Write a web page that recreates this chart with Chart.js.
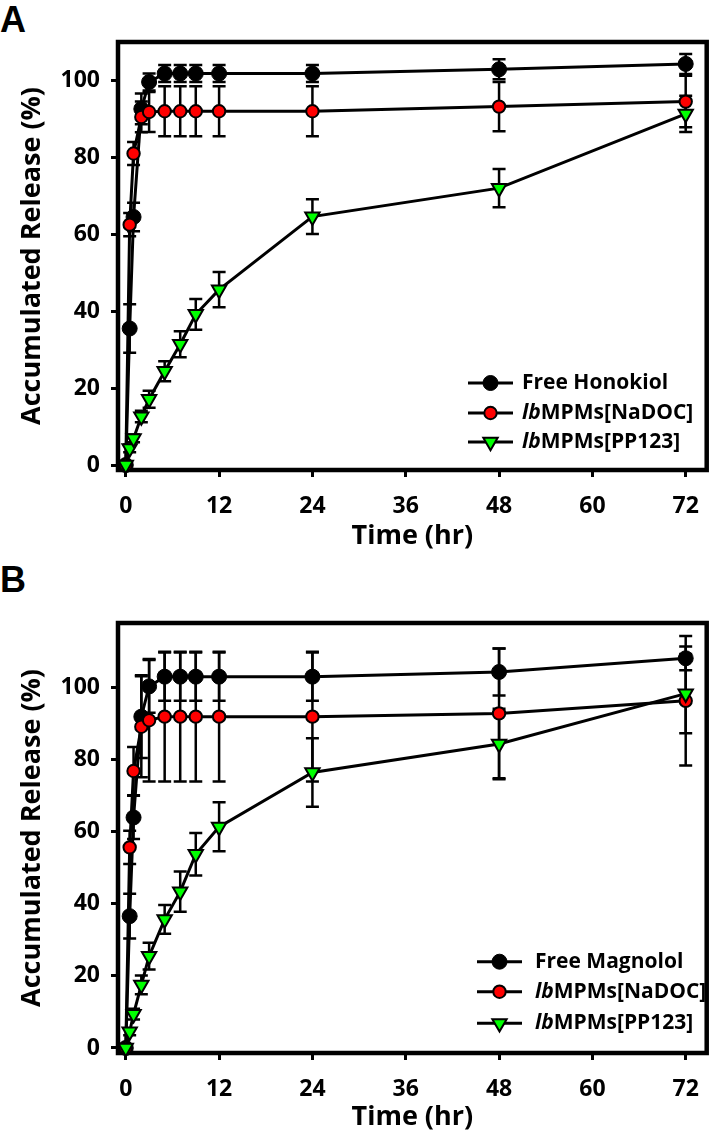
<!DOCTYPE html>
<html><head><meta charset="utf-8">
<script src="https://cdn.jsdelivr.net/npm/chart.js@4.4.0/dist/chart.umd.min.js"></script>
<style>
html,body{margin:0;padding:0;background:#fff;}
body{width:717px;height:1134px;position:relative;overflow:hidden;}
canvas{position:absolute;left:0;}
.lbl{position:absolute;font-family:"Liberation Sans",Arial,sans-serif;font-weight:bold;font-size:36px;line-height:1;color:#000;}
</style></head><body>
<div class="lbl" style="left:0px;top:2px">A</div>
<div class="lbl" style="left:0px;top:562px">B</div>
<canvas id="cA" width="717" height="560" style="top:0"></canvas>
<canvas id="cB" width="717" height="574" style="top:560px"></canvas>
<script>
// ---------- DATA ----------
const times = [0, 0.5, 1, 2, 3, 5, 7, 9, 12, 24, 48, 72];
const xTicks = [0, 12, 24, 36, 48, 60, 72];
const yTicks = [0, 20, 40, 60, 80, 100];

// Panel A (Honokiol)
const freeHonokiol    = [0, 35.5, 64.5, 92.6, 99.6, 101.8, 101.8, 101.8, 101.8, 101.8, 102.9, 104.3];
const freeHonokiolErr = [0, 6.3, 3.7, 4.0, 2.2, 2.2, 2.2, 2.2, 2.2, 2.2, 2.6, 2.6];
const nadocA          = [0, 62.5, 81.0, 90.5, 91.8, 92.0, 92.0, 92.0, 92.0, 92.0, 93.2, 94.5];
const nadocAErr       = [0, 3.0, 3.0, 4.0, 5.2, 6.5, 6.5, 6.5, 6.5, 6.5, 6.4, 6.7];
const pp123A          = [0, 4.3, 6.9, 12.6, 17.1, 24.4, 31.4, 39.2, 45.6, 64.6, 72.0, 91.3];
const pp123AErr       = [0, 1.0, 1.0, 1.5, 2.2, 2.6, 3.4, 4.0, 4.6, 4.5, 5.0, 4.7];

// Panel B (Magnolol)
const freeMagnolol    = [0, 36.6, 64.0, 92.0, 100.4, 103.1, 103.1, 103.1, 103.1, 103.1, 104.4, 108.2];
const freeMagnololErr = [0, 6.2, 6.0, 11.5, 7.3, 6.7, 6.7, 6.7, 6.7, 6.7, 6.5, 3.3];
const nadocB          = [0, 55.7, 76.9, 89.2, 91.0, 92.0, 92.0, 92.0, 92.0, 92.0, 92.9, 96.4];
const nadocBErr       = [0, 4.6, 6.7, 14.0, 17.0, 18.0, 18.0, 18.0, 18.0, 18.0, 18.0, 18.0];
const pp123B          = [0, 4.5, 9.4, 17.5, 25.5, 35.7, 43.4, 53.8, 61.4, 76.5, 84.4, 98.4];
const pp123BErr       = [0, 1.0, 1.5, 2.6, 3.7, 4.0, 5.6, 5.9, 6.8, 9.5, 9.8, 11.0];

const labelsA = ['Free Honokiol', 'lbMPMs[NaDOC]', 'lbMPMs[PP123]'];
const labelsB = ['Free Magnolol', 'lbMPMs[NaDOC]', 'lbMPMs[PP123]'];

// ---------- STYLES ----------
const FONT = 'Open Sans';
const styles = [
  {fill:'#000000', stroke:'#000000', style:'circle', radius:7.5, bw:1, rot:0, order:2},
  {fill:'#ff0000', stroke:'#000000', style:'circle', radius:6.2, bw:2, rot:0, order:1},
  {fill:'#00ff00', stroke:'#000000', style:'triangle', radius:8.3, bw:2, rot:180, order:0}
];

function mkDataset(label, vals, errs, st) {
  return {
    label: label,
    data: times.map((t, i) => ({x: t, y: vals[i]})),
    errors: errs,
    borderColor: '#000', borderWidth: 3, fill: false, tension: 0,
    pointStyle: st.style, pointRadius: st.radius, pointRotation: st.rot,
    pointBackgroundColor: st.fill, pointBorderColor: st.stroke, pointBorderWidth: st.bw,
    order: st.order, clip: false
  };
}

const framePlugin = {
  id: 'frame',
  beforeDatasetsDraw(chart) {
    const {ctx, chartArea: a} = chart;
    ctx.save();
    ctx.strokeStyle = '#000'; ctx.lineWidth = 4.5;
    ctx.strokeRect(a.left, a.top, a.right - a.left, a.bottom - a.top);
    ctx.restore();
  }
};

const errorPlugin = {
  id: 'errbars',
  beforeDatasetsDraw(chart) {
    const {ctx, scales: {x, y}} = chart;
    ctx.save();
    ctx.strokeStyle = '#000'; ctx.lineWidth = 2.5;
    chart.data.datasets.slice().sort((a, b) => b.order - a.order).forEach(ds => {
      ds.data.forEach((p, i) => {
        const e = ds.errors[i];
        if (!e) return;
        const px = x.getPixelForValue(p.x);
        const y1 = y.getPixelForValue(p.y + e), y2 = y.getPixelForValue(p.y - e);
        ctx.beginPath();
        ctx.moveTo(px, y1); ctx.lineTo(px, y2);
        ctx.moveTo(px - 6.5, y1); ctx.lineTo(px + 6.5, y1);
        ctx.moveTo(px - 6.5, y2); ctx.lineTo(px + 6.5, y2);
        ctx.stroke();
      });
    });
    ctx.restore();
  }
};

const legendPlugin = {
  id: 'customLegend',
  afterDatasetsDraw(chart, args, opts) {
    const {ctx} = chart;
    ctx.save();
    opts.labels.forEach((lab, i) => {
      const yy = opts.rows[i];
      const st = styles[i];
      ctx.strokeStyle = '#000'; ctx.lineWidth = 3;
      ctx.beginPath(); ctx.moveTo(opts.x1, yy); ctx.lineTo(opts.x2, yy); ctx.stroke();
      ctx.fillStyle = st.fill; ctx.strokeStyle = st.stroke; ctx.lineWidth = st.bw;
      Chart.helpers.drawPoint(ctx, {pointStyle: st.style, radius: st.radius, rotation: st.rot, borderWidth: st.bw}, (opts.x1 + opts.x2) / 2, yy);
      ctx.fillStyle = '#000'; ctx.textBaseline = 'middle'; ctx.textAlign = 'left';
      let tx = opts.textX;
      let rest = lab;
      if (lab.startsWith('lb')) {
        ctx.font = 'italic bold 21px "' + FONT + '"';
        ctx.fillText('lb', tx, yy);
        tx += ctx.measureText('lb').width;
        rest = lab.slice(2);
      }
      ctx.font = 'bold 21px "' + FONT + '"';
      ctx.fillText(rest, tx, yy);
    });
    ctx.restore();
  }
};

function makeChart(id, sets, labels, yMin, yMax, padTop, xH, titlePad, legend) {
  new Chart(document.getElementById(id), {
    type: 'line',
    data: {datasets: sets.map((s, i) => mkDataset(labels[i], s[0], s[1], styles[i]))},
    options: {
      responsive: false, animation: false,
      layout: {padding: {top: padTop, right: 5, left: 0, bottom: 0}},
      scales: {
        x: {
          type: 'linear', min: -1, max: 74.7,
          afterBuildTicks: s => { s.ticks = xTicks.map(v => ({value: v})); },
          afterFit: s => { s.height = xH; },
          ticks: {color: '#000', font: {family: FONT, size: 23, weight: 'bold'}, padding: 16, maxRotation: 0, autoSkip: false},
          grid: {drawOnChartArea: false, drawTicks: true, tickLength: 7, tickWidth: 3, tickColor: '#000', color: '#000', lineWidth: 3},
          border: {display: false},
          title: {display: true, text: 'Time (hr)', color: '#000', font: {family: FONT, size: 27, weight: 'bold'}, padding: {top: 0, bottom: titlePad}}
        },
        y: {
          type: 'linear', min: yMin, max: yMax,
          afterBuildTicks: s => { s.ticks = yTicks.map(v => ({value: v})); },
          afterFit: s => { s.width = 118; },
          ticks: {color: '#000', font: {family: FONT, size: 23, weight: 'bold'}, padding: 11},
          grid: {drawOnChartArea: false, drawTicks: true, tickLength: 7, tickWidth: 3, tickColor: '#000', color: '#000', lineWidth: 3},
          border: {display: false},
          title: {display: true, text: 'Accumulated Release (%)', color: '#000', font: {family: FONT, size: 27, weight: 'bold'}, padding: {top: 16, bottom: 0}}
        }
      },
      plugins: {legend: {display: false}, tooltip: {enabled: false}, customLegend: legend}
    },
    plugins: [framePlugin, errorPlugin, legendPlugin]
  });
}

makeChart('cA',
  [[freeHonokiol, freeHonokiolErr], [nadocA, nadocAErr], [pp123A, pp123AErr]],
  labelsA, -1.3, 110, 42, 90, 7,
  {labels: labelsA, rows: [383, 413, 442], x1: 468, x2: 513, textX: 522});

makeChart('cB',
  [[freeMagnolol, freeMagnololErr], [nadocB, nadocBErr], [pp123B, pp123BErr]],
  labelsB, -1.4, 118, 63, 81, 0,
  {labels: labelsB, rows: [401.7, 431.7, 463.3], x1: 477, x2: 522, textX: 535});
</script>
</body></html>
